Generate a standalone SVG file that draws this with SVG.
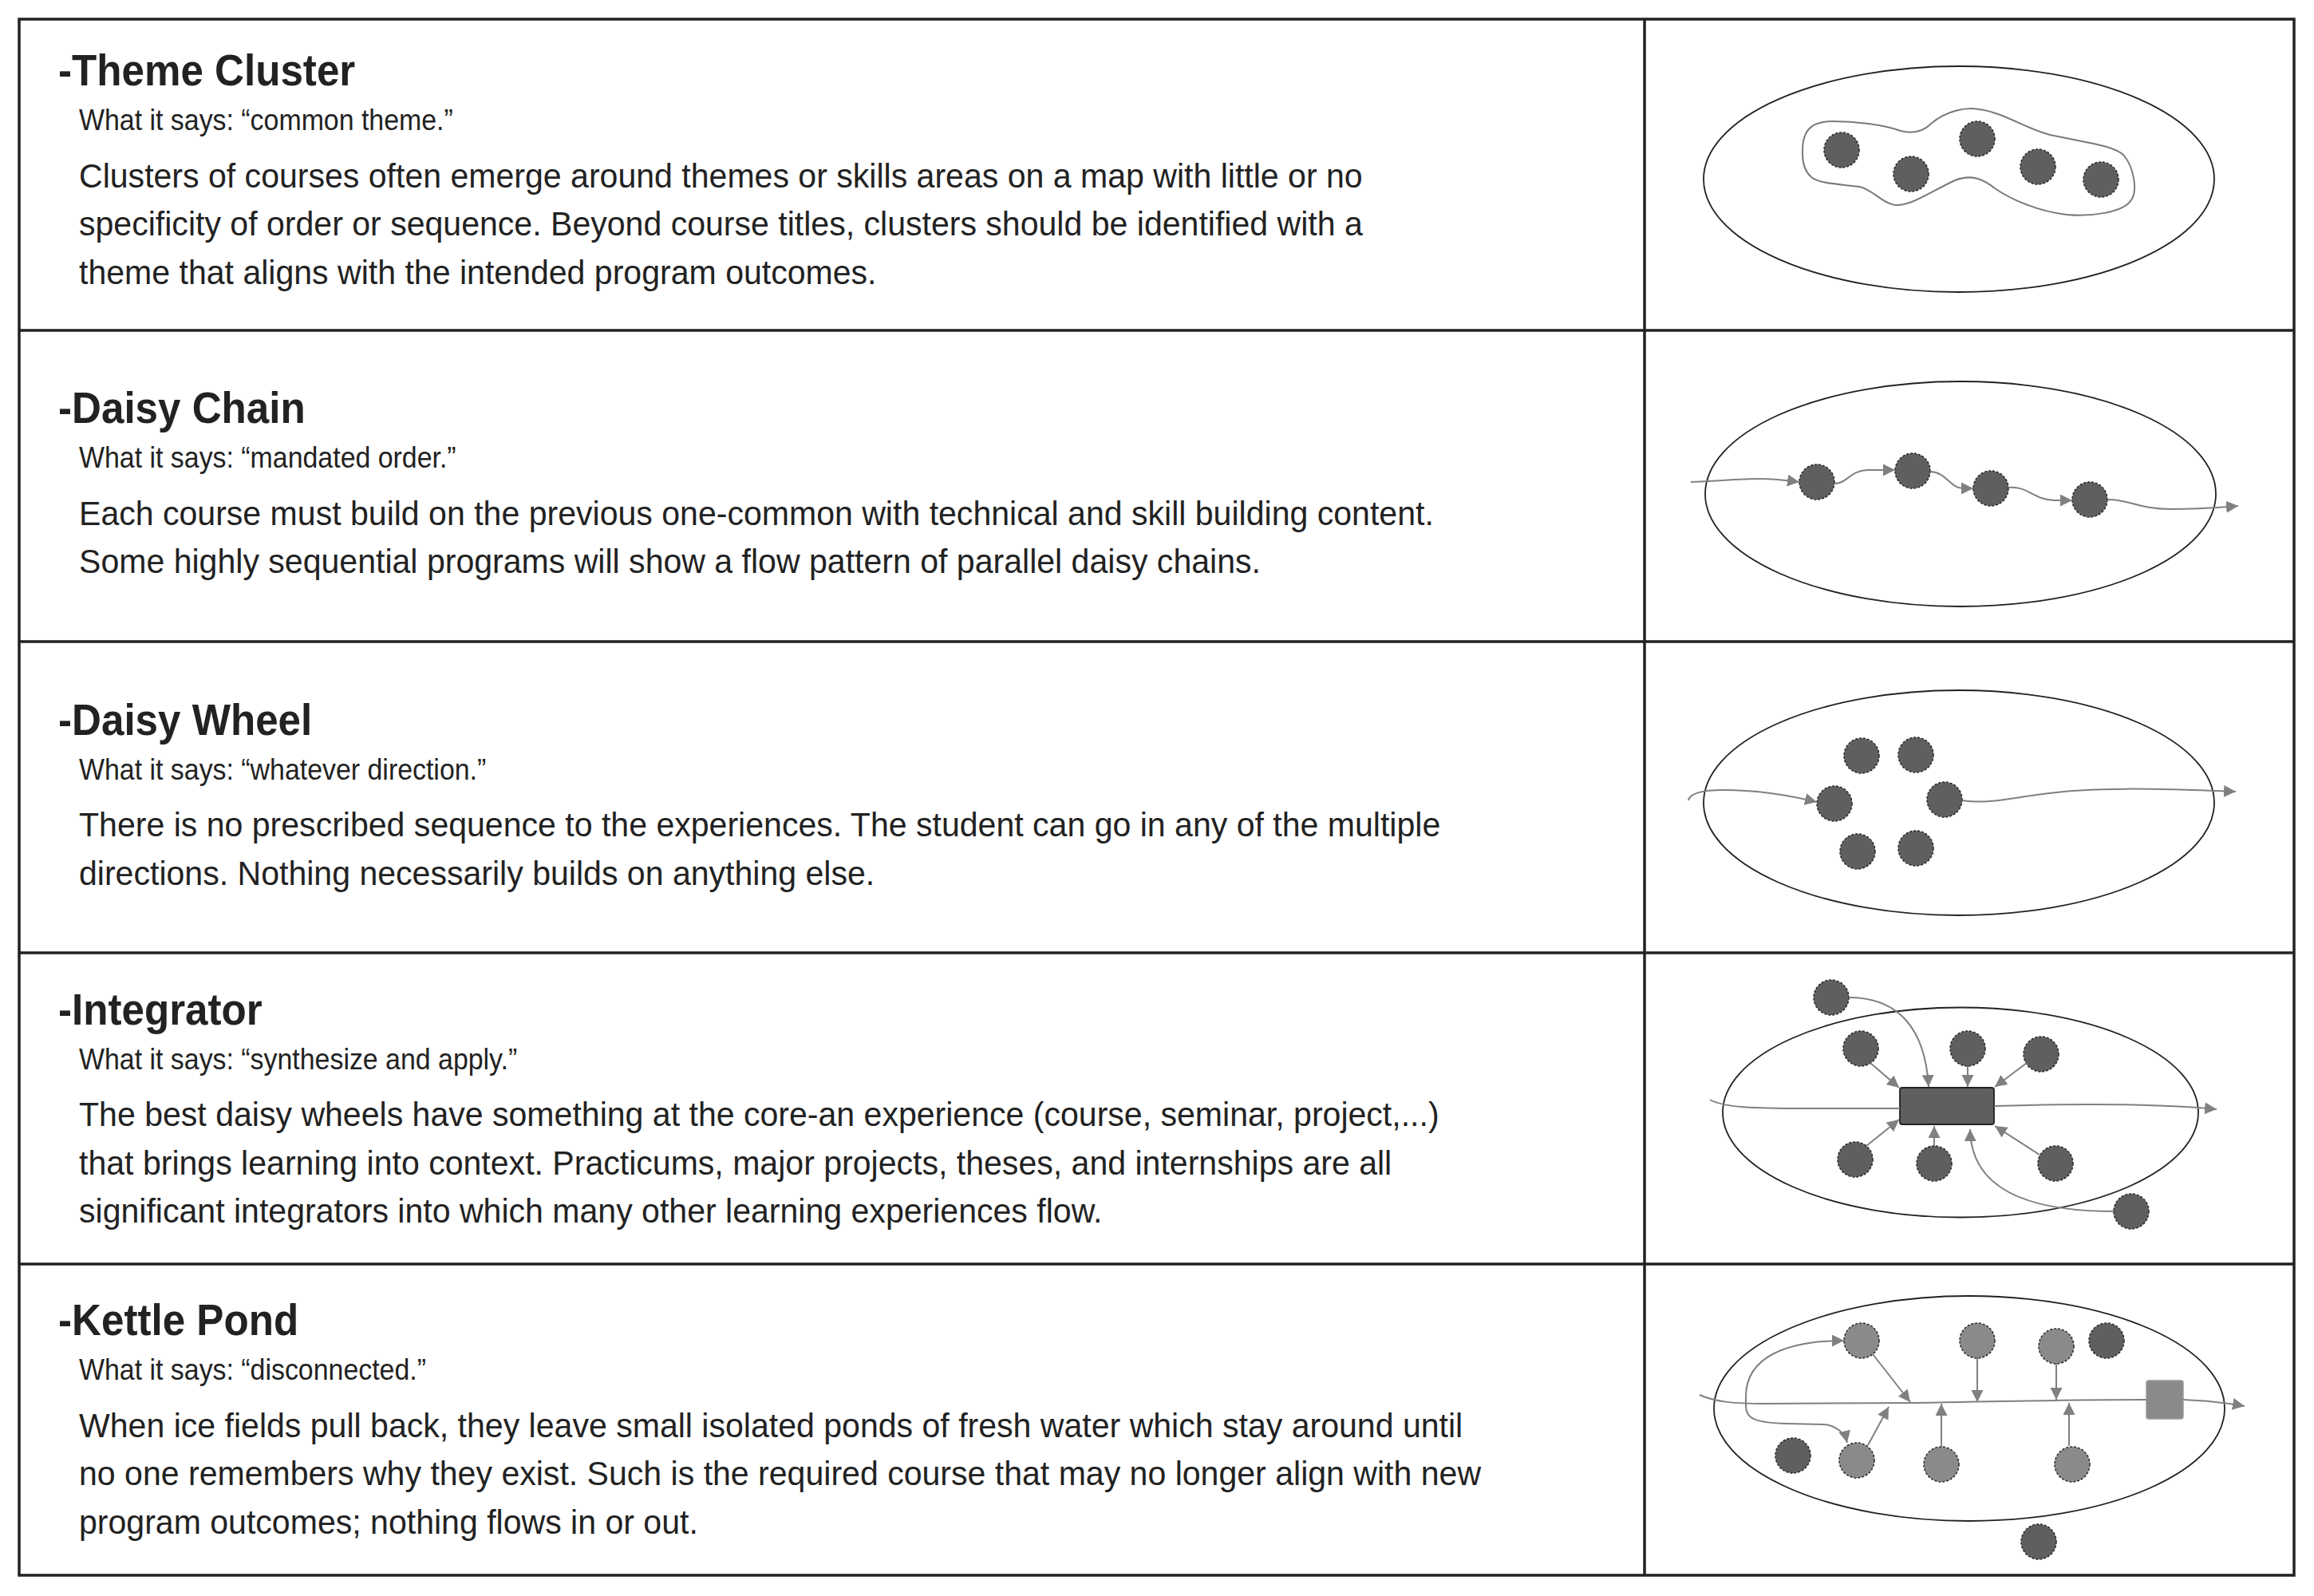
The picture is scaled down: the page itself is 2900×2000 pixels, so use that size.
<svg xmlns="http://www.w3.org/2000/svg" width="2900" height="2000" viewBox="0 0 2900 2000">
<style>
.grid{fill:none;stroke:#222;stroke-width:3.5}
.t{font-family:"Liberation Sans",Arial,sans-serif;font-weight:bold;font-size:55px;fill:#222}
.s{font-family:"Liberation Sans",Arial,sans-serif;font-size:37px;fill:#222}
.b{font-family:"Liberation Sans",Arial,sans-serif;font-size:43px;fill:#222}
.pond{fill:none;stroke:#222;stroke-width:1.8}
.n{fill:#5f5f5f;stroke:#2a2a2a;stroke-width:1.5;stroke-dasharray:3 2}
.nl{fill:#8a8a8a;stroke:#2a2a2a;stroke-width:1.5;stroke-dasharray:3 2}
.c{fill:none;stroke:#808080;stroke-width:2}
.a{marker-end:url(#ah)}
.ab{marker-start:url(#ah);marker-end:url(#ah)}
.clu{fill:none;stroke:#7a7a7a;stroke-width:2}
</style>
<defs>
<marker id="ah" markerUnits="userSpaceOnUse" markerWidth="17" markerHeight="17" refX="15" refY="7.5" orient="auto-start-reverse">
<path d="M0,0 L15,7.5 L0,15 z" fill="#808080"/>
</marker>
</defs>
<rect width="2900" height="2000" fill="#fff"/>
<g id="table">
<rect class="grid" x="24" y="24" width="2851" height="1950"/>
<line class="grid" x1="24" y1="414" x2="2875" y2="414"/>
<line class="grid" x1="24" y1="804" x2="2875" y2="804"/>
<line class="grid" x1="24" y1="1194" x2="2875" y2="1194"/>
<line class="grid" x1="24" y1="1584" x2="2875" y2="1584"/>
<line class="grid" x1="2061" y1="24" x2="2061" y2="1974"/>
</g>
<g id="text-theme-cluster">
<text class="t" transform="translate(73 107) scale(0.93 1)">-Theme Cluster</text>
<text class="s" transform="translate(99 163) scale(0.916 1)">What it says: “common theme.”</text>
<text class="b" transform="translate(99 234.5) scale(0.955 1)">Clusters of courses often emerge around themes or skills areas on a map with little or no</text>
<text class="b" transform="translate(99 295) scale(0.955 1)">specificity of order or sequence. Beyond course titles, clusters should be identified with a</text>
<text class="b" transform="translate(99 355.5) scale(0.955 1)">theme that aligns with the intended program outcomes.</text>
</g>
<g id="text-daisy-chain">
<text class="t" transform="translate(73 530) scale(0.93 1)">-Daisy Chain</text>
<text class="s" transform="translate(99 586) scale(0.916 1)">What it says: “mandated order.”</text>
<text class="b" transform="translate(99 657.5) scale(0.955 1)">Each course must build on the previous one-common with technical and skill building content.</text>
<text class="b" transform="translate(99 718) scale(0.955 1)">Some highly sequential programs will show a flow pattern of parallel daisy chains.</text>
</g>
<g id="text-daisy-wheel">
<text class="t" transform="translate(73 920.5) scale(0.93 1)">-Daisy Wheel</text>
<text class="s" transform="translate(99 976.5) scale(0.916 1)">What it says: “whatever direction.”</text>
<text class="b" transform="translate(99 1048) scale(0.955 1)">There is no prescribed sequence to the experiences. The student can go in any of the multiple</text>
<text class="b" transform="translate(99 1108.5) scale(0.955 1)">directions. Nothing necessarily builds on anything else.</text>
</g>
<g id="text-integrator">
<text class="t" transform="translate(73 1283.5) scale(0.93 1)">-Integrator</text>
<text class="s" transform="translate(99 1339.5) scale(0.916 1)">What it says: “synthesize and apply.”</text>
<text class="b" transform="translate(99 1411) scale(0.955 1)">The best daisy wheels have something at the core-an experience (course, seminar, project,...)</text>
<text class="b" transform="translate(99 1471.5) scale(0.955 1)">that brings learning into context. Practicums, major projects, theses, and internships are all</text>
<text class="b" transform="translate(99 1532) scale(0.955 1)">significant integrators into which many other learning experiences flow.</text>
</g>
<g id="text-kettle-pond">
<text class="t" transform="translate(73 1673) scale(0.93 1)">-Kettle Pond</text>
<text class="s" transform="translate(99 1729) scale(0.916 1)">What it says: “disconnected.”</text>
<text class="b" transform="translate(99 1800.5) scale(0.955 1)">When ice fields pull back, they leave small isolated ponds of fresh water which stay around until</text>
<text class="b" transform="translate(99 1861) scale(0.955 1)">no one remembers why they exist. Such is the required course that may no longer align with new</text>
<text class="b" transform="translate(99 1921.5) scale(0.955 1)">program outcomes; nothing flows in or out.</text>
</g>

<!-- Row 1: Theme Cluster -->
<g id="d1-pond"><ellipse class="pond" cx="2455" cy="224.5" rx="320" ry="141.5"/></g>
<g id="d1-cluster"><path class="clu" d="M2259,193 C2258,165 2268,152 2296,152 C2325,152 2360,156 2382,164 C2398,168 2410,165 2420,155 C2440,138 2465,134 2480,137 C2510,140 2545,165 2574,170 C2610,178 2650,182 2662,195 C2674,210 2680,240 2670,252 C2660,266 2620,272 2590,269 C2555,265 2520,250 2500,236 C2485,224 2470,218 2450,226 C2420,240 2395,258 2376,257 C2360,256 2345,236 2330,234 C2300,230 2280,230 2270,222 C2260,213 2259,200 2259,193 Z"/></g>
<g id="d1-n1"><circle class="n" cx="2308" cy="188" r="22"/></g>
<g id="d1-n2"><circle class="n" cx="2395" cy="218" r="22"/></g>
<g id="d1-n3"><circle class="n" cx="2478" cy="174" r="22"/></g>
<g id="d1-n4"><circle class="n" cx="2554" cy="209" r="22"/></g>
<g id="d1-n5"><circle class="n" cx="2633" cy="225" r="22"/></g>

<!-- Row 2: Daisy Chain -->
<g id="d2-pond"><ellipse class="pond" cx="2457" cy="619" rx="320" ry="141"/></g>
<g id="d2-n1"><circle class="n" cx="2277" cy="604" r="22"/></g>
<g id="d2-n2"><circle class="n" cx="2397" cy="590" r="22"/></g>
<g id="d2-n3"><circle class="n" cx="2495" cy="612" r="22"/></g>
<g id="d2-n4"><circle class="n" cx="2619" cy="626" r="22"/></g>

<!-- Row 3: Daisy Wheel -->
<g id="d3-pond"><ellipse class="pond" cx="2455" cy="1006" rx="320" ry="141"/></g>
<g id="d3-n1"><circle class="n" cx="2333" cy="947" r="22"/></g>
<g id="d3-n2"><circle class="n" cx="2401" cy="946" r="22"/></g>
<g id="d3-n3"><circle class="n" cx="2299" cy="1007" r="22"/></g>
<g id="d3-n4"><circle class="n" cx="2437" cy="1002" r="22"/></g>
<g id="d3-n5"><circle class="n" cx="2328" cy="1067" r="22"/></g>
<g id="d3-n6"><circle class="n" cx="2401" cy="1063" r="22"/></g>

<!-- Row 4: Integrator -->
<g id="d4-pond"><ellipse class="pond" cx="2457" cy="1394" rx="298" ry="131.5"/></g>
<g id="d4-core"><rect x="2381" y="1363" width="118" height="46" rx="3" fill="#5f5f5f" stroke="#222" stroke-width="1.8"/></g>
<g id="d4-n1"><circle class="n" cx="2295" cy="1250" r="22"/></g>
<g id="d4-n2"><circle class="n" cx="2332" cy="1314" r="22"/></g>
<g id="d4-n3"><circle class="n" cx="2466" cy="1314" r="22"/></g>
<g id="d4-n4"><circle class="n" cx="2558" cy="1321" r="22"/></g>
<g id="d4-n5"><circle class="n" cx="2325" cy="1453" r="22"/></g>
<g id="d4-n6"><circle class="n" cx="2424" cy="1458" r="22"/></g>
<g id="d4-n7"><circle class="n" cx="2576" cy="1458" r="22"/></g>
<g id="d4-n8"><circle class="n" cx="2671" cy="1518" r="22"/></g>

<!-- Row 5: Kettle Pond -->
<g id="d5-pond"><ellipse class="pond" cx="2468" cy="1765" rx="320" ry="141"/></g>
<g id="d5-n1"><circle class="nl" cx="2333" cy="1680" r="22"/></g>
<g id="d5-n2"><circle class="nl" cx="2478" cy="1680" r="22"/></g>
<g id="d5-n3"><circle class="nl" cx="2577" cy="1687" r="22"/></g>
<g id="d5-n4"><circle class="n" cx="2640" cy="1680" r="22"/></g>
<g id="d5-n5"><circle class="n" cx="2247" cy="1824" r="22"/></g>
<g id="d5-n6"><circle class="nl" cx="2327" cy="1830" r="22"/></g>
<g id="d5-n7"><circle class="nl" cx="2433" cy="1835" r="22"/></g>
<g id="d5-n8"><circle class="nl" cx="2597" cy="1835" r="22"/></g>
<g id="d5-n9"><circle class="n" cx="2555" cy="1932" r="22"/></g>
<g id="d5-box"><rect x="2690" y="1730" width="46" height="48" rx="3" fill="#8a8a8a" stroke="#999" stroke-width="1.5"/></g>

<g id="connectors">
<!-- row 2 -->
<path class="c a" d="M2119,604 C2150,603 2180,600 2205,600 C2225,600 2240,602 2255,604"/>
<path class="c a" d="M2299,606 C2315,606 2318,590 2340,589 L2375,589"/>
<path class="c a" d="M2419,591 C2438,591 2445,612 2460,612 L2473,612"/>
<path class="c a" d="M2517,611 C2540,608 2550,627 2575,627 L2597,627"/>
<path class="c a" d="M2641,626 C2670,626 2680,638 2720,638 C2750,638 2780,636 2805,634"/>
<!-- row 3 -->
<path class="c a" d="M2116,1003 C2118,993 2135,990 2160,990 C2200,990 2240,996 2277,1005"/>
<path class="c a" d="M2459,1003 C2490,1008 2520,1000 2560,995 C2620,986 2700,988 2802,992"/>
<!-- row 4 -->
<path class="c" d="M2143,1378 C2160,1388 2200,1389 2260,1389 L2381,1389"/>
<path class="c a" d="M2499,1386 C2600,1383 2700,1383 2778,1390"/>
<path class="c a" d="M2317,1250 C2380,1250 2413,1290 2417,1362"/>
<path class="c a" d="M2344,1332 L2380,1363"/>
<path class="c a" d="M2466,1336 L2466,1362"/>
<path class="c a" d="M2540,1332 L2500,1362"/>
<path class="c a" d="M2339,1436 L2380,1403"/>
<path class="c a" d="M2424,1436 L2424,1411"/>
<path class="c a" d="M2556,1447 L2500,1411"/>
<path class="c a" d="M2649,1518 C2540,1518 2470,1490 2469,1415"/>
<!-- row 5 -->
<path class="c" d="M2130,1748 C2150,1757 2175,1759 2210,1759 L2400,1758 C2500,1756 2600,1754 2690,1754"/>
<path class="c a" d="M2736,1754 C2765,1755 2790,1758 2813,1762"/>
<path class="c ab" d="M2311,1680 C2240,1680 2188,1700 2188,1750 L2188,1762 C2188,1778 2200,1783 2240,1784 L2285,1785 C2300,1786 2312,1795 2315,1808"/>
<path class="c a" d="M2347,1697 L2394,1757"/>
<path class="c a" d="M2478,1702 L2478,1757"/>
<path class="c a" d="M2577,1709 L2577,1754"/>
<path class="c a" d="M2433,1813 L2433,1759"/>
<path class="c a" d="M2593,1812 L2593,1758"/>
<path class="c a" d="M2341,1811 L2367,1763"/>
</g>
</svg>
